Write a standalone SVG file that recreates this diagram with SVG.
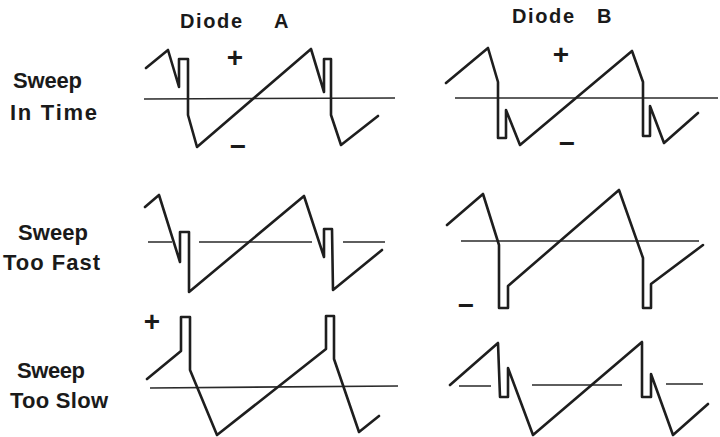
<svg xmlns="http://www.w3.org/2000/svg" width="720" height="437" viewBox="0 0 720 437">
<style>
.w{fill:none;stroke:#1e1e1e;stroke-width:2.6;stroke-linejoin:round;stroke-linecap:round}
.b{fill:none;stroke:#2a2a2a;stroke-width:1.6}
.lbl{font-family:"Liberation Sans",Arial,sans-serif;font-weight:bold;font-size:22px;fill:#1a1a1a}
.ttl{font-family:"Liberation Sans",Arial,sans-serif;font-weight:bold;font-size:20px;fill:#1a1a1a}
.sg{font-family:"Liberation Sans",Arial,sans-serif;font-weight:bold;font-size:28px;fill:#1a1a1a;text-anchor:middle}
</style>
<rect width="720" height="437" fill="#ffffff"/>
<g id="titles">
<text class="ttl" x="180" y="28" textLength="62" lengthAdjust="spacing">Diode</text>
<text class="ttl" x="274" y="28" style="font-weight:900">A</text>
<text class="ttl" x="512" y="23" textLength="62" lengthAdjust="spacing">Diode</text>
<text class="ttl" x="597" y="23" style="font-weight:900">B</text>
</g>
<g id="row-labels">
<text class="lbl" x="13" y="88" textLength="69" lengthAdjust="spacing">Sweep</text>
<text class="lbl" x="10" y="120" textLength="87" lengthAdjust="spacing">In Time</text>
<text class="lbl" x="18" y="240" textLength="70" lengthAdjust="spacing">Sweep</text>
<text class="lbl" x="3" y="270" textLength="97" lengthAdjust="spacing">Too Fast</text>
<text class="lbl" x="17" y="378" textLength="68" lengthAdjust="spacing">Sweep</text>
<text class="lbl" x="10" y="408" textLength="98" lengthAdjust="spacing">Too Slow</text>
</g>
<g id="panel-a-intime">
<path class="b" d="M144,99 L395,98"/>
<path class="w" d="M146,68 L168,50 L179,87 L179,59 L188,59 L188,115 L197,147 L311,49 L324,92 L324,59 L331,59 L331,115 L341,145 L378,116"/>
<text class="sg" x="235" y="67">+</text>
<text class="sg" x="238" y="156">−</text>
</g>
<g id="panel-b-intime">
<path class="b" d="M455,98 L718,98"/>
<path class="w" d="M446,83 L488,48 L498,82 L498,138 L506,138 L506,110 L520,145 L632,51 L643,82 L643,136 L650,136 L650,106 L664,143 L698,113"/>
<text class="sg" x="561" y="64">+</text>
<text class="sg" x="567" y="153">−</text>
</g>
<g id="panel-a-fast">
<path class="b" d="M148,242 L172,242 M199,242 L312,242 M343,242 L385,242"/>
<path class="w" d="M145,207 L159,195 L180,262 L180,232 L189,232 L189,292 L304,196 L324,257 L324,229 L332,229 L333,290 L382,250"/>
</g>
<g id="panel-b-fast">
<path class="b" d="M461,241 L699,241"/>
<path class="w" d="M447,225 L483,194 L499,245 L499,308 L508,308 L508,286 L619,190 L643,258 L643,308 L651,308 L651,284 L703,245"/>
<text class="sg" x="466" y="315">−</text>
</g>
<g id="panel-a-slow">
<path class="b" d="M150,388 L398,386"/>
<path class="w" d="M147,379 L181,351 L181,317 L190,317 L190,370 L217,435 L326,349 L326,316 L334,316 L334,359 L359,432 L379,416"/>
<text class="sg" x="152" y="331">+</text>
</g>
<g id="panel-b-slow">
<path class="b" d="M459,386 L491,386 M532,385 L622,385 M666,384 L703,384"/>
<path class="w" d="M450,385 L498,343 L500,397 L508,397 L508,368 L533,435 L642,342 L642,397 L651,397 L651,374 L673,435 L708,404"/>
</g>
</svg>
